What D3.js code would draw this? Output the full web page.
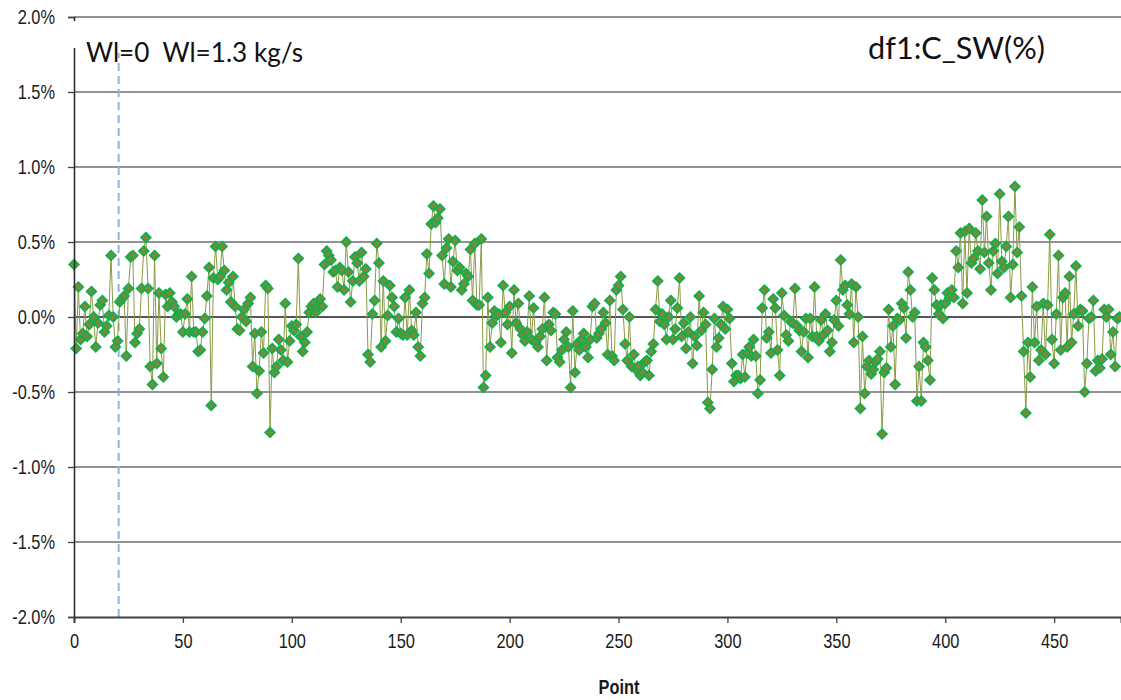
<!DOCTYPE html>
<html>
<head>
<meta charset="utf-8">
<script src="https://cdn.jsdelivr.net/npm/d3@7/dist/d3.min.js"></script>
<style>
  html, body { margin: 0; padding: 0; background: #ffffff; }
  svg { display: block; }
  .tick-label { font-family: "Liberation Sans", Arial, sans-serif; font-size: 20px; fill: #1a1a1a; }
  .note { font-family: Lato, "Open Sans", sans-serif; fill: #111; }
</style>
</head>
<body>
<svg id="chart" width="1121" height="700"></svg>
<script>
// C_SW deviation (%) for each test point, in blocks of consecutive points
const block0 = [0.35, -0.21, 0.20, -0.15, -0.11, 0.07, -0.13, -0.05, 0.17, 0.00,
  -0.20, -0.04, 0.08, 0.11, -0.10, -0.06, 0.01, 0.41, 0.00, -0.20,
  -0.16, 0.10, 0.12, 0.14, -0.26, 0.19, 0.40, 0.41, -0.17, -0.11,
  -0.08, 0.19, 0.44, 0.53, 0.19, -0.33, -0.45, 0.41, -0.31, 0.16,
  -0.21, -0.40, 0.15, 0.07, 0.16, 0.10, 0.07, 0.00];
const block1 = [0.02, 0.02, -0.10, 0.02, 0.12, -0.10, 0.27, -0.10, -0.10, -0.23,
  -0.22, -0.10, -0.01, 0.14, 0.33, -0.59, 0.26, 0.47, 0.25, 0.27,
  0.47, 0.31, 0.18, 0.23, 0.10, 0.27, 0.07, -0.08, -0.09, 0.00,
  0.05, -0.03, 0.09, 0.13, -0.33, -0.11, -0.51, -0.36, -0.10, -0.24,
  0.21, 0.19, -0.77, -0.21, -0.37, -0.33, -0.15, -0.22];
const block2 = [-0.29, 0.09, -0.30, -0.16, -0.06, -0.09, -0.05, 0.39, -0.13, -0.23,
  -0.17, -0.10, 0.03, 0.07, 0.09, 0.03, 0.07, 0.12, 0.07, 0.35,
  0.44, 0.41, 0.38, 0.30, 0.31, 0.20, 0.33, 0.31, 0.18, 0.50,
  0.30, 0.10, 0.24, 0.40, 0.36, 0.24, 0.43, 0.27, 0.32, -0.25,
  -0.30, 0.02, 0.11, 0.49, 0.36];
const block3 = [-0.20, 0.24, -0.16, 0.01, 0.21, 0.13, 0.07, -0.10, -0.01, -0.11,
  -0.12, 0.13, -0.12, 0.18, -0.09, -0.12, 0.03, -0.20, -0.26, 0.09,
  0.13, 0.42, 0.29, 0.62, 0.74, 0.63, 0.66, 0.72, 0.41, 0.22,
  0.46, 0.52, 0.20, 0.37, 0.51, 0.31, 0.33, 0.18, 0.22, 0.29,
  0.27, 0.45, 0.11, 0.49, 0.08, 0.08, 0.52, -0.47, -0.39, 0.13];
const block4 = [-0.20, -0.04, 0.04, 0.01, 0.02, -0.17, 0.21, 0.03, -0.05, 0.07,
  -0.24, 0.18, -0.04, 0.09, -0.08, -0.12, -0.16, -0.10, 0.14, -0.15,
  0.06, -0.17, -0.20, -0.13, -0.08, 0.13, -0.29, -0.05, -0.09, 0.03,
  0.02, -0.27, -0.30, -0.22, -0.15, -0.10, -0.20, -0.47, 0.04, -0.37,
  -0.18, -0.22, -0.15, -0.11, -0.20, -0.27, -0.15, 0.07, 0.09, -0.14];
const block5 = [-0.11, -0.08, 0.03, -0.04, -0.25, 0.11, -0.26, -0.29, 0.18, 0.21,
  0.27, 0.05, -0.18, -0.29, 0.00, -0.33, -0.25, -0.35, -0.33, -0.39,
  -0.37, -0.30, -0.29, -0.39, -0.23, -0.18, 0.05, 0.24, -0.03, 0.02,
  -0.05, -0.15, 0.00, 0.11, -0.15, -0.08, 0.06, 0.26, -0.13, -0.04,
  -0.21, -0.10, 0.00, -0.31, -0.13, -0.19, 0.14, -0.09, 0.03, -0.05];
const block6 = [-0.57, -0.61, -0.35, -0.01, -0.20, -0.14, -0.05, 0.07, -0.08, 0.05,
  -0.01, -0.31, -0.43, -0.39, -0.39, -0.41, -0.25, -0.40, -0.24, -0.20,
  -0.26, -0.15, -0.26, -0.51, -0.42, 0.06, 0.18, -0.14, -0.10, -0.24,
  0.12, 0.06, -0.22, -0.39, 0.16, 0.01, -0.12, -0.16, -0.03, -0.04,
  0.19, -0.06, -0.09, -0.23, -0.10, -0.01, -0.27];
const block7 = [-0.01, -0.13, 0.20, -0.13, -0.16, -0.02, -0.12, 0.02, -0.09, -0.23,
  -0.17, -0.02, 0.11, -0.06, 0.38, 0.18, 0.21, 0.08, 0.02, 0.22,
  -0.17, 0.20, 0.00, -0.61, -0.13, -0.51, -0.33, -0.29, -0.38, -0.35,
  -0.30, -0.28, -0.23, -0.78, -0.37, -0.34, 0.05, -0.20, -0.06, -0.45,
  -0.01, -0.02, 0.09, 0.06, -0.14, 0.30, 0.18, 0.00];
const block8 = [0.03, -0.56, -0.33, -0.56, -0.17, -0.20, -0.29, -0.42, 0.26, 0.18,
  0.08, 0.02, 0.08, -0.01, 0.09, 0.16, 0.13, 0.18, 0.13, 0.44,
  0.33, 0.56, 0.09, 0.57, 0.16, 0.59, 0.36, 0.39, 0.56, 0.44,
  0.32, 0.78, 0.43, 0.67, 0.36, 0.18, 0.44, 0.49, 0.29, 0.82,
  0.37, 0.33, 0.47, 0.67, 0.13, 0.35, 0.87, 0.43];
const block9 = [0.60, 0.14, -0.23, -0.64, -0.17, -0.40, 0.20, -0.17, 0.07, -0.29,
  -0.22, 0.09, -0.25, 0.08, 0.55, -0.15, -0.31, 0.02, 0.41, -0.22,
  0.13, 0.16, -0.20, 0.27, -0.17, 0.02, 0.34, -0.06, 0.05, 0.04,
  -0.50, -0.31, -0.01, 0.00, 0.11, -0.36, -0.29, -0.34, -0.28, 0.05,
  0.00, 0.05, -0.25, -0.10, -0.33, -0.01, 0.00];

const xTicks = [0, 50, 100, 150, 200, 250, 300, 350, 400, 450];
const yTicks = [-2.0, -1.5, -1.0, -0.5, 0.0, 0.5, 1.0, 1.5, 2.0];
const switchPoint = 20.5;          // water injection switched on here
const noteText = "Wl=0\u00a0\u00a0Wl=1.3 kg/s";
const titleText = "df1:C_SW(%)";
const xTitle = "Point";

const values = [].concat(block0, block1, block2, block3, block4, block5, block6, block7, block8, block9);
const data = values.map((v, i) => ({ point: i, value: v }));

const svg = d3.select("#chart");
const plotLeft = 74, plotRight = 1121, plotTop = 17, plotBottom = 617;
const narrow = 0.82;   // horizontal squeeze for the condensed tick lettering

const x = d3.scaleLinear().domain([0, 480.7]).range([plotLeft, plotRight]);
const y = d3.scaleLinear().domain([-2, 2]).range([plotBottom, plotTop]);

// horizontal gridlines
svg.append("g")
  .selectAll("line")
  .data(yTicks.filter(t => t !== -2))
  .join("line")
  .attr("x1", plotLeft).attr("x2", plotRight)
  .attr("y1", d => y(d)).attr("y2", d => y(d))
  .attr("stroke", d => d === 0 ? "#1e1e1e" : "#6e6e6e")
  .attr("stroke-width", 1.3);

// vertical dashed separator
svg.append("line")
  .attr("x1", x(switchPoint)).attr("x2", x(switchPoint))
  .attr("y1", y(-2)).attr("y2", 53)
  .attr("stroke", "#8db4e2")
  .attr("stroke-width", 2)
  .attr("stroke-dasharray", "8,5");

// series line
svg.append("path")
  .datum(data)
  .attr("fill", "none")
  .attr("stroke", "#8a9a44")
  .attr("stroke-width", 1)
  .attr("d", d3.line().x(d => x(d.point)).y(d => y(d.value)));

// diamond markers
const diamond = { draw(ctx, size) { const r = Math.sqrt(size / 2); ctx.moveTo(0, -r); ctx.lineTo(r, 0); ctx.lineTo(0, r); ctx.lineTo(-r, 0); ctx.closePath(); } };
svg.append("g")
  .selectAll("path")
  .data(data)
  .join("path")
  .attr("transform", d => `translate(${x(d.point)},${y(d.value)})`)
  .attr("d", d3.symbol().type(diamond).size(46))
  .attr("fill", "#7a8a3a")
  .attr("stroke", "#14ad4c")
  .attr("stroke-width", 1.8);

// x axis
const xAxis = svg.append("g").attr("transform", `translate(0,${plotBottom})`)
  .call(d3.axisBottom(x).tickValues(xTicks).tickSize(6).tickPadding(11).tickFormat(d3.format("d")));
xAxis.attr("font-size", null).attr("font-family", null);
xAxis.select(".domain").attr("stroke", "#404040").attr("stroke-width", 2);
xAxis.selectAll(".tick line").attr("stroke", "#404040").attr("stroke-width", 1.3);
xAxis.selectAll(".tick text").attr("class", "tick-label").attr("transform", `scale(${narrow},1)`);

// y axis
const yAxis = svg.append("g").attr("transform", `translate(${plotLeft},0)`)
  .call(d3.axisLeft(y).tickValues(yTicks).tickSize(6).tickPadding(13)
    .tickFormat(d => d3.format(".1f")(d).replace("\u2212", "-") + "%"));
yAxis.attr("font-size", null).attr("font-family", null);
yAxis.select(".domain").attr("stroke", "#303030").attr("stroke-width", 1.6);
yAxis.selectAll(".tick line").attr("stroke", "#404040").attr("stroke-width", 1.3);
yAxis.selectAll(".tick text").attr("class", "tick-label")
  .attr("x", -19 / narrow)
  .attr("transform", `scale(${narrow},1)`);

// annotation box at top-left (white backing hides the axis behind it)
svg.append("rect").attr("x", 70).attr("y", 21).attr("width", 8).attr("height", 27).attr("fill", "#fff");
svg.append("text").attr("class", "note")
  .attr("x", 86).attr("y", 62)
  .attr("font-size", 27)
  .attr("textLength", 217)
  .attr("lengthAdjust", "spacingAndGlyphs")
  .text(noteText);

svg.append("text").attr("class", "note")
  .attr("x", 868).attr("y", 59)
  .attr("font-size", 31)
  .attr("textLength", 177)
  .attr("lengthAdjust", "spacingAndGlyphs")
  .text(titleText);

svg.append("text")
  .attr("transform", `translate(619,694) scale(${narrow},1)`)
  .attr("text-anchor", "middle")
  .attr("font-family", "'Liberation Sans', Arial, sans-serif")
  .attr("font-weight", "bold")
  .attr("font-size", 20)
  .attr("fill", "#1a1a1a")
  .text(xTitle);
</script>
</body>
</html>
